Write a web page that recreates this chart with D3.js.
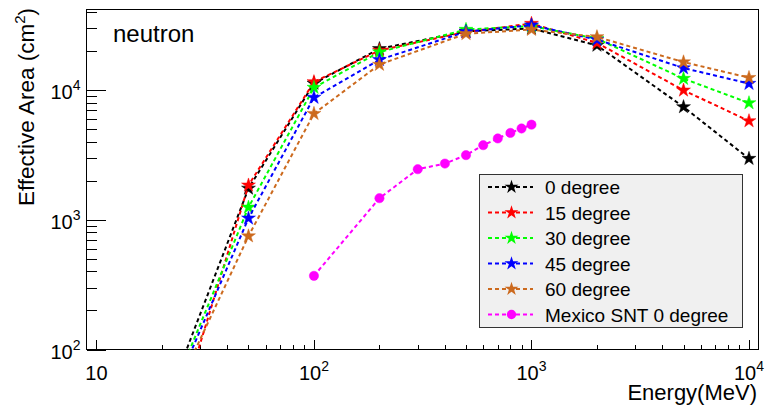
<html>
<head>
	<title>neutron effective area</title>
	<script src="https://d3js.org/d3.v7.min.js" charset="utf-8"></script>
	<style type="text/css">
		body { margin: 0; background: #fff; }
		text { font-family: "Liberation Sans", Arial, Helvetica, sans-serif; fill: #000; }
	</style>
</head>
<body>
	<div id="chart"></div>
	<script>
		// energies (MeV) for the angle scans
		var energies = [20, 50, 100, 200, 500, 1000, 2000, 5000, 10000];
		var deg0  = [32, 1750, 11300, 20900, 28500, 30000, 22200, 7440, 2970];
		var deg15 = [12, 1850, 11600, 20300, 28200, 32700, 23200, 10000, 5800];
		var deg30 = [30, 1250, 10500, 19700, 29400, 31300, 25000, 12300, 7980];
		var deg45 = [29, 1030, 8800, 17200, 28300, 31800, 24600, 14850, 11260];
		var deg60 = [28, 750, 6600, 15800, 27300, 29400, 25800, 16500, 12500];

		var mexicoE = [100, 200, 300, 400, 500, 600, 700, 800, 900, 1000];
		var mexicoA = [370, 1470, 2460, 2720, 3160, 3770, 4250, 4690, 5070, 5430];

		var seriesNames = ['0 degree', '15 degree', '30 degree', '45 degree', '60 degree', 'Mexico SNT 0 degree'];
		var seriesColors = ['#000000', '#ff0000', '#00ff00', '#0000ff', '#cc6a1e', '#ff00ff'];

		var xMajor = [10, 100, 1000, 10000];
		var yMajor = [100, 1000, 10000];

		var series = [
			{name: seriesNames[0], color: seriesColors[0], x: energies, y: deg0, mark: 'star'},
			{name: seriesNames[1], color: seriesColors[1], x: energies, y: deg15, mark: 'star'},
			{name: seriesNames[2], color: seriesColors[2], x: energies, y: deg30, mark: 'star'},
			{name: seriesNames[3], color: seriesColors[3], x: energies, y: deg45, mark: 'star'},
			{name: seriesNames[4], color: seriesColors[4], x: energies, y: deg60, mark: 'star'},
			{name: seriesNames[5], color: seriesColors[5], x: mexicoE, y: mexicoA, mark: 'circle'}
		];

		var margin = {top: 9.5, right: 7, bottom: 55.5, left: 86.5};
		var W = 765, H = 405;
		var width = W - margin.left - margin.right;
		var height = H - margin.top - margin.bottom;

		var xScale = d3.scaleLog().domain([9, 11000]).range([0, width]);
		var yScale = d3.scaleLog().domain([100, 42000]).range([height, 0]);

		var svg = d3.select('#chart').append('svg')
			.attr('width', W)
			.attr('height', H);

		var chart = svg.append('g')
			.attr('transform', 'translate(' + margin.left + ',' + margin.top + ')');

		svg.append('defs').append('clipPath').attr('id', 'clip')
			.append('rect').attr('width', width).attr('height', height);

		//minor ticks
		function minors(lo, hi) {
			var out = [];
			for (var p = Math.floor(Math.log10(lo)); p <= Math.ceil(Math.log10(hi)); p++) {
				for (var m = 2; m <= 9; m++) {
					var v = m * Math.pow(10, p);
					if (v > lo && v < hi) out.push(v);
				}
			}
			return out;
		}

		var xAxisMinor = d3.axisBottom(xScale).tickValues(minors(9, 11000)).tickSize(-4.5).tickFormat('');
		var xAxisMajor = d3.axisBottom(xScale).tickValues(xMajor).tickSize(-9.5).tickFormat('');
		var yAxisMinor = d3.axisLeft(yScale).tickValues(minors(100, 42000)).tickSize(-10).tickFormat('');
		var yAxisMajor = d3.axisLeft(yScale).tickValues(yMajor).tickSize(-19.5).tickFormat('');

		[xAxisMinor, xAxisMajor].forEach(function(ax) {
			chart.append('g').attr('transform', 'translate(0,' + height + ')').call(ax);
		});
		[yAxisMinor, yAxisMajor].forEach(function(ax) {
			chart.append('g').call(ax);
		});
		chart.selectAll('.domain').remove();
		chart.selectAll('.tick line').style('stroke', '#000').style('stroke-width', 1).attr('shape-rendering', 'crispEdges');

		// frame
		chart.append('rect')
			.attr('width', width).attr('height', height)
			.style('fill', 'none').style('stroke', '#000').style('stroke-width', 1)
			.attr('shape-rendering', 'crispEdges');

		// tick labels
		function powLabel(sel, v) {
			var p = Math.round(Math.log10(v));
			if (p === 1) { sel.text('10'); return; }
			sel.append('tspan').text('10');
			sel.append('tspan').attr('dy', -9).style('font-size', '14px').text(p);
		}

		chart.selectAll('.xlab').data(xMajor).enter().append('text')
			.attr('class', 'xlab')
			.attr('x', function(d) { return xScale(d); })
			.attr('y', height + 30)
			.attr('text-anchor', 'middle')
			.style('font-size', '20px')
			.each(function(d) { powLabel(d3.select(this), d); });

		chart.selectAll('.ylab').data(yMajor).enter().append('text')
			.attr('class', 'ylab')
			.attr('x', -6)
			.attr('y', function(d) { return yScale(d) + 9; })
			.attr('text-anchor', 'end')
			.style('font-size', '20px')
			.each(function(d) { powLabel(d3.select(this), d); });

		// axis titles
		svg.append('text')
			.attr('x', 757).attr('y', 399.5)
			.attr('text-anchor', 'end')
			.style('font-size', '22px')
			.text('Energy(MeV)');

		var yt = svg.append('text')
			.attr('transform', 'translate(33.5,8) rotate(-90)')
			.attr('text-anchor', 'end')
			.style('font-size', '22.5px');
		yt.append('tspan').text('Effective Area (cm');
		yt.append('tspan').attr('dy', -9).style('font-size', '15px').text('2');
		yt.append('tspan').attr('dy', 9).text(')');

		svg.append('text')
			.attr('x', 113).attr('y', 41.5)
			.style('font-size', '24px')
			.text('neutron');

		// series
		var line = d3.line()
			.x(function(d) { return xScale(d[0]); })
			.y(function(d) { return yScale(d[1]); });

		var star = d3.symbol().type(d3.symbolStar).size(60);
		var dot = d3.symbol().type(d3.symbolCircle).size(68);

		var plot = chart.append('g').attr('clip-path', 'url(#clip)');

		series.forEach(function(s) {
			var pts = d3.zip(s.x, s.y);
			plot.append('path')
				.attr('d', line(pts))
				.style('fill', 'none')
				.style('stroke', s.color)
				.style('stroke-width', 2)
				.style('stroke-dasharray', '4,3');
			plot.selectAll(null).data(pts).enter().append('path')
				.attr('d', s.mark === 'star' ? star : dot)
				.attr('transform', function(d) { return 'translate(' + xScale(d[0]) + ',' + yScale(d[1]) + ')'; })
				.style('fill', s.color)
				.style('stroke', s.color)
				.style('stroke-width', 0.5);
		});

		// legend
		var lg = svg.append('g').attr('transform', 'translate(479,174.5)');
		lg.append('rect')
			.attr('width', 263.5).attr('height', 153)
			.style('fill', '#f0f0f0').style('stroke', '#333').style('stroke-width', 1)
			.attr('shape-rendering', 'crispEdges');

		var rows = lg.selectAll('.row').data(series).enter().append('g')
			.attr('class', 'row')
			.attr('transform', function(d, i) { return 'translate(0,' + (12.5 + i * 25.5) + ')'; });
		rows.append('line')
			.attr('x1', 9).attr('x2', 54)
			.style('stroke', function(d) { return d.color; })
			.style('stroke-width', 2)
			.style('stroke-dasharray', '4,3');
		rows.append('path')
			.attr('d', function(d) { return d.mark === 'star' ? star() : dot(); })
			.attr('transform', 'translate(32.5,0)')
			.style('fill', function(d) { return d.color; });
		rows.append('text')
			.attr('x', 66).attr('y', 7)
			.style('font-size', '19px')
			.text(function(d) { return d.name; });
	</script>
</body>
</html>
